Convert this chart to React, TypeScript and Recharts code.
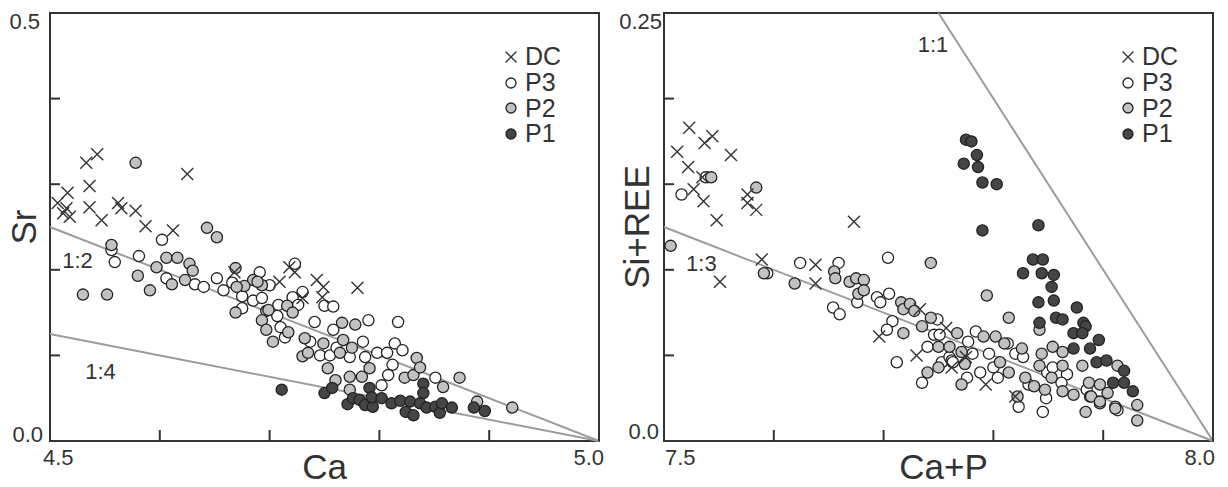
import React from 'react';
import {
  ScatterChart,
  Scatter,
  XAxis,
  YAxis,
  ReferenceLine,
  ReferenceDot,
  ReferenceArea,
  Legend,
} from 'recharts';

const FONT = '"Liberation Sans", Arial, Helvetica, sans-serif';
const INK = '#333333';
const GUIDE = '#9c9c9c';

// ---- left panel: Sr vs Ca ----
const caTicks = [4.5, 4.6, 4.7, 4.8, 4.9, 5.0];
const srTicks = [0, 0.1, 0.2, 0.3, 0.4, 0.5];

const dcCa = [4.543, 4.533, 4.536, 4.516, 4.507, 4.515, 4.512, 4.518, 4.536, 4.547, 4.562, 4.565, 4.578, 4.587, 4.612, 4.625, 4.668, 4.709, 4.718, 4.723, 4.730, 4.743, 4.749, 4.748, 4.780];
const dcSr = [0.335, 0.325, 0.298, 0.290, 0.278, 0.272, 0.266, 0.262, 0.273, 0.258, 0.278, 0.272, 0.269, 0.251, 0.246, 0.312, 0.197, 0.186, 0.203, 0.197, 0.167, 0.188, 0.180, 0.168, 0.179];

const p3Ca = [4.602, 4.556, 4.559, 4.581, 4.606, 4.632, 4.640, 4.652, 4.658, 4.666, 4.675, 4.675, 4.685, 4.691, 4.693, 4.700, 4.708, 4.707, 4.710, 4.714, 4.723, 4.721, 4.726, 4.730, 4.741, 4.750, 4.758, 4.758, 4.737, 4.746, 4.755, 4.761, 4.773, 4.785, 4.787, 4.790, 4.798, 4.807, 4.814, 4.821, 4.817, 4.812, 4.808, 4.802, 4.851];
const p3Sr = [0.235, 0.223, 0.209, 0.216, 0.190, 0.183, 0.180, 0.190, 0.176, 0.185, 0.169, 0.155, 0.164, 0.197, 0.167, 0.182, 0.159, 0.146, 0.133, 0.121, 0.207, 0.168, 0.159, 0.174, 0.139, 0.158, 0.157, 0.130, 0.116, 0.100, 0.100, 0.109, 0.098, 0.116, 0.098, 0.141, 0.103, 0.103, 0.114, 0.106, 0.139, 0.089, 0.077, 0.065, 0.074];

const p2Ca = [4.578, 4.643, 4.652, 4.556, 4.530, 4.552, 4.580, 4.591, 4.597, 4.606, 4.616, 4.627, 4.630, 4.611, 4.623, 4.669, 4.685, 4.677, 4.693, 4.670, 4.669, 4.697, 4.693, 4.697, 4.703, 4.716, 4.721, 4.689, 4.699, 4.717, 4.732, 4.730, 4.735, 4.749, 4.753, 4.760, 4.766, 4.778, 4.767, 4.764, 4.775, 4.791, 4.784, 4.773, 4.773, 4.823, 4.831, 4.834, 4.837, 4.858, 4.873, 4.889, 4.921];
const p2Sr = [0.325, 0.249, 0.238, 0.229, 0.171, 0.171, 0.193, 0.176, 0.203, 0.214, 0.214, 0.207, 0.199, 0.183, 0.188, 0.202, 0.188, 0.181, 0.182, 0.180, 0.150, 0.152, 0.141, 0.130, 0.116, 0.158, 0.150, 0.186, 0.153, 0.127, 0.120, 0.099, 0.103, 0.114, 0.085, 0.071, 0.138, 0.136, 0.118, 0.103, 0.109, 0.085, 0.075, 0.075, 0.060, 0.074, 0.077, 0.097, 0.086, 0.063, 0.074, 0.046, 0.039];

const p1Ca = [4.711, 4.750, 4.757, 4.771, 4.776, 4.782, 4.787, 4.794, 4.791, 4.793, 4.802, 4.811, 4.819, 4.824, 4.831, 4.828, 4.837, 4.840, 4.840, 4.843, 4.851, 4.855, 4.857, 4.866, 4.886, 4.896];
const p1Sr = [0.060, 0.056, 0.062, 0.043, 0.050, 0.048, 0.042, 0.040, 0.062, 0.051, 0.050, 0.044, 0.047, 0.034, 0.030, 0.046, 0.044, 0.067, 0.056, 0.039, 0.040, 0.033, 0.044, 0.039, 0.039, 0.035];

// ---- right panel: Si+REE vs Ca+P ----
const capTicks = [7.5, 7.6, 7.7, 7.8, 7.9, 8.0];
const sireeTicks = [0, 0.05, 0.1, 0.15, 0.2, 0.25];

const rDcX = [7.523, 7.544, 7.537, 7.512, 7.561, 7.522, 7.535, 7.527, 7.536, 7.548, 7.576, 7.576, 7.584, 7.673, 7.589, 7.551, 7.638, 7.638, 7.696, 7.730, 7.757, 7.733, 7.762, 7.775, 7.793, 7.820];
const rDcY = [0.183, 0.178, 0.174, 0.169, 0.167, 0.160, 0.154, 0.147, 0.140, 0.129, 0.144, 0.139, 0.135, 0.128, 0.106, 0.093, 0.103, 0.092, 0.061, 0.050, 0.066, 0.077, 0.043, 0.049, 0.033, 0.026];

const rP3X = [7.516, 7.538, 7.594, 7.624, 7.659, 7.704, 7.654, 7.660, 7.676, 7.694, 7.705, 7.708, 7.703, 7.712, 7.735, 7.740, 7.746, 7.749, 7.753, 7.760, 7.762, 7.777, 7.784, 7.781, 7.796, 7.788, 7.776, 7.800, 7.804, 7.813, 7.820, 7.827, 7.832, 7.823, 7.845, 7.848, 7.849, 7.854, 7.867, 7.862, 7.885, 7.888, 7.897, 7.911, 7.913, 7.763, 7.751, 7.697];
const rP3Y = [0.144, 0.154, 0.098, 0.104, 0.104, 0.107, 0.078, 0.074, 0.081, 0.084, 0.086, 0.070, 0.065, 0.046, 0.034, 0.055, 0.062, 0.071, 0.046, 0.049, 0.047, 0.058, 0.064, 0.051, 0.051, 0.040, 0.037, 0.043, 0.037, 0.057, 0.051, 0.049, 0.033, 0.020, 0.017, 0.025, 0.040, 0.043, 0.039, 0.034, 0.030, 0.026, 0.022, 0.020, 0.018, 0.046, 0.062, 0.081];

const rP2X = [7.543, 7.584, 7.506, 7.591, 7.619, 7.655, 7.656, 7.669, 7.675, 7.682, 7.677, 7.682, 7.716, 7.718, 7.724, 7.728, 7.718, 7.735, 7.743, 7.750, 7.760, 7.740, 7.750, 7.743, 7.767, 7.771, 7.771, 7.774, 7.794, 7.814, 7.791, 7.802, 7.810, 7.806, 7.814, 7.826, 7.829, 7.837, 7.822, 7.844, 7.842, 7.842, 7.853, 7.847, 7.854, 7.863, 7.863, 7.863, 7.873, 7.881, 7.887, 7.897, 7.904, 7.889, 7.897, 7.884, 7.911, 7.913, 7.931, 7.931];
const rP2Y = [0.154, 0.148, 0.114, 0.098, 0.092, 0.099, 0.095, 0.093, 0.095, 0.094, 0.086, 0.088, 0.081, 0.077, 0.080, 0.076, 0.063, 0.067, 0.072, 0.055, 0.055, 0.040, 0.043, 0.104, 0.063, 0.052, 0.033, 0.045, 0.085, 0.072, 0.061, 0.061, 0.057, 0.046, 0.040, 0.054, 0.037, 0.032, 0.026, 0.051, 0.065, 0.044, 0.037, 0.030, 0.055, 0.052, 0.044, 0.029, 0.027, 0.044, 0.034, 0.033, 0.028, 0.026, 0.023, 0.017, 0.019, 0.044, 0.021, 0.012];

const rP1X = [7.775, 7.780, 7.785, 7.773, 7.786, 7.790, 7.803, 7.790, 7.841, 7.836, 7.845, 7.827, 7.844, 7.855, 7.853, 7.841, 7.855, 7.876, 7.857, 7.863, 7.882, 7.884, 7.842, 7.873, 7.881, 7.896, 7.888, 7.873, 7.894, 7.903, 7.919, 7.909, 7.919, 7.927];
const rP1Y = [0.176, 0.175, 0.167, 0.162, 0.160, 0.151, 0.150, 0.123, 0.126, 0.106, 0.106, 0.098, 0.098, 0.097, 0.090, 0.081, 0.082, 0.078, 0.072, 0.071, 0.069, 0.067, 0.069, 0.063, 0.063, 0.059, 0.054, 0.054, 0.046, 0.047, 0.041, 0.034, 0.034, 0.029];

const zip = (xs: number[], ys: number[]) => xs.map((x, i) => ({ x, y: ys[i] }));

const legendRows = [
  { name: 'DC', fill: '' },
  { name: 'P3', fill: '#ffffff' },
  { name: 'P2', fill: '#c2c2c2' },
  { name: 'P1', fill: '#454545' },
];

const dot = (fill: string) => (p: any) => (
  <circle cx={p.cx} cy={p.cy} r={5.6} fill={fill} stroke="#222" strokeWidth={1.3} />
);

const cross = (p: any) => (
  <path
    d={`M${p.cx - 6},${p.cy - 6}L${p.cx + 6},${p.cy + 6}M${p.cx - 6},${p.cy + 6}L${p.cx + 6},${p.cy - 6}`}
    stroke={INK}
    strokeWidth={1.4}
    fill="none"
  />
);

const LegendBox = () => (
  <div style={{ fontFamily: FONT, fontSize: 25, color: INK, lineHeight: 1 }}>
    {legendRows.map((r) => (
      <div key={r.name} style={{ display: 'flex', alignItems: 'center', height: 25.7 }}>
        <svg width={16} height={16} style={{ marginRight: 6 }}>
          {r.fill ? (
            <circle cx={8} cy={8} r={5} fill={r.fill} stroke="#222" strokeWidth={1.3} />
          ) : (
            <path d="M2.5,2.5L13.5,13.5M2.5,13.5L13.5,2.5" stroke={INK} strokeWidth={1.4} />
          )}
        </svg>
        <span>{r.name}</span>
      </div>
    ))}
  </div>
);

// end labels only, short tick marks pointing into the plot
type EndCfg = { lo: number; hi: number; loText: string; hiText: string; loDx: number; loDy: number; hiDx: number; hiDy: number };

const yTick = (c: EndCfg) => (p: any) => {
  const v = p.payload.value;
  const isLo = Math.abs(v - c.lo) < 1e-9;
  const isHi = Math.abs(v - c.hi) < 1e-9;
  return (
    <g>
      <line x1={p.x} x2={p.x + 10} y1={p.y} y2={p.y} stroke={INK} strokeWidth={2} />
      {(isLo || isHi) && (
        <text
          x={p.x + (isLo ? c.loDx : c.hiDx)}
          y={p.y + (isLo ? c.loDy : c.hiDy)}
          textAnchor="end"
          fontSize={22}
          fontFamily={FONT}
          fill={INK}
        >
          {isLo ? c.loText : c.hiText}
        </text>
      )}
    </g>
  );
};

const xTick = (c: EndCfg) => (p: any) => {
  const v = p.payload.value;
  const isLo = Math.abs(v - c.lo) < 1e-9;
  const isHi = Math.abs(v - c.hi) < 1e-9;
  return (
    <g>
      <line x1={p.x} x2={p.x} y1={p.y} y2={p.y - 11} stroke={INK} strokeWidth={2} />
      {(isLo || isHi) && (
        <text
          x={p.x + (isLo ? c.loDx : c.hiDx)}
          y={p.y + (isLo ? c.loDy : c.hiDy)}
          textAnchor={isLo ? 'start' : 'end'}
          fontSize={22}
          fontFamily={FONT}
          fill={INK}
        >
          {isLo ? c.loText : c.hiText}
        </text>
      )}
    </g>
  );
};

const titleStyle = { fontSize: 35, fontFamily: FONT, fill: INK };
const ratioLabel = (v: string) => ({ value: v, position: 'center' as const, fontSize: 22, fontFamily: FONT, fill: INK });

export default function App() {
  return (
    <div style={{ position: 'absolute', left: 0, top: 0, width: 1228, height: 487, background: '#fff', display: 'flex' }}>
      <ScatterChart width={610} height={487} margin={{ top: 13, right: 11, bottom: 0, left: 0 }}>
        <XAxis
          type="number"
          dataKey="x"
          domain={[4.5, 5.0]}
          ticks={caTicks}
          interval={0}
          height={46}
          tickSize={0}
          tickMargin={0}
          axisLine={false}
          tickLine={false}
          tick={xTick({ lo: 4.5, hi: 5.0, loText: '4.5', hiText: '5.0', loDx: -7, loDy: 24, hiDx: 5, hiDy: 24 })}
          label={{ value: 'Ca', position: 'insideBottom', offset: 8, ...titleStyle }}
        />
        <YAxis
          type="number"
          dataKey="y"
          domain={[0, 0.5]}
          ticks={srTicks}
          interval={0}
          width={50}
          tickSize={0}
          tickMargin={0}
          axisLine={false}
          tickLine={false}
          tick={yTick({ lo: 0, hi: 0.5, loText: '0.0', hiText: '0.5', loDx: -7, loDy: 1, hiDx: -10, hiDy: 16 })}
          label={{ value: 'Sr', angle: -90, position: 'center', dx: -1, ...titleStyle }}
        />
        <ReferenceArea x1={4.5} x2={5.0} y1={0} y2={0.5} fill="none" stroke={INK} strokeWidth={2} />
        <ReferenceLine segment={[{ x: 4.5, y: 0.25 }, { x: 5.0, y: 0 }]} stroke={GUIDE} strokeWidth={2} />
        <ReferenceLine segment={[{ x: 4.5, y: 0.125 }, { x: 5.0, y: 0 }]} stroke={GUIDE} strokeWidth={2} />
        <ReferenceDot x={4.525} y={0.211} r={0} fill="none" stroke="none" label={ratioLabel('1:2')} />
        <ReferenceDot x={4.546} y={0.081} r={0} fill="none" stroke="none" label={ratioLabel('1:4')} />
        <Scatter name="P3" data={zip(p3Ca, p3Sr)} shape={dot('#ffffff')} isAnimationActive={false} />
        <Scatter name="P2" data={zip(p2Ca, p2Sr)} shape={dot('#c2c2c2')} isAnimationActive={false} />
        <Scatter name="P1" data={zip(p1Ca, p1Sr)} shape={dot('#454545')} isAnimationActive={false} />
        <Scatter name="DC" data={zip(dcCa, dcSr)} shape={cross} isAnimationActive={false} />
        <Legend
          layout="horizontal"
          verticalAlign="middle"
          align="center"
          content={() => <LegendBox />}
          wrapperStyle={{ left: 503, top: 44, width: 'auto' }}
        />
      </ScatterChart>

      <ScatterChart width={618} height={487} margin={{ top: 13, right: 15, bottom: 0, left: 0 }}>
        <XAxis
          type="number"
          dataKey="x"
          domain={[7.5, 8.0]}
          ticks={capTicks}
          interval={0}
          height={46}
          tickSize={0}
          tickMargin={0}
          axisLine={false}
          tickLine={false}
          tick={xTick({ lo: 7.5, hi: 8.0, loText: '7.5', hiText: '8.0', loDx: 1, loDy: 24, hiDx: 2, hiDy: 24 })}
          label={{ value: 'Ca+P', position: 'insideBottom', offset: 8, dx: 5, ...titleStyle }}
        />
        <YAxis
          type="number"
          dataKey="y"
          domain={[0, 0.25]}
          ticks={sireeTicks}
          interval={0}
          width={54}
          tickSize={0}
          tickMargin={0}
          axisLine={false}
          tickLine={false}
          tick={yTick({ lo: 0, hi: 0.25, loText: '0.0', hiText: '0.25', loDx: -5, loDy: -2, hiDx: -2, hiDy: 16 })}
          label={{ value: 'Si+REE', angle: -90, position: 'center', ...titleStyle }}
        />
        <ReferenceArea x1={7.5} x2={8.0} y1={0} y2={0.25} fill="none" stroke={INK} strokeWidth={2} />
        <ReferenceLine segment={[{ x: 7.5, y: 0.125 }, { x: 8.0, y: 0 }]} stroke={GUIDE} strokeWidth={2} />
        <ReferenceLine segment={[{ x: 7.75, y: 0.25 }, { x: 8.0, y: 0 }]} stroke={GUIDE} strokeWidth={2} />
        <ReferenceDot x={7.534} y={0.104} r={0} fill="none" stroke="none" label={ratioLabel('1:3')} />
        <ReferenceDot x={7.745} y={0.232} r={0} fill="none" stroke="none" label={ratioLabel('1:1')} />
        <Scatter name="P3" data={zip(rP3X, rP3Y)} shape={dot('#ffffff')} isAnimationActive={false} />
        <Scatter name="P2" data={zip(rP2X, rP2Y)} shape={dot('#c2c2c2')} isAnimationActive={false} />
        <Scatter name="P1" data={zip(rP1X, rP1Y)} shape={dot('#454545')} isAnimationActive={false} />
        <Scatter name="DC" data={zip(rDcX, rDcY)} shape={cross} isAnimationActive={false} />
        <Legend
          layout="horizontal"
          verticalAlign="middle"
          align="center"
          content={() => <LegendBox />}
          wrapperStyle={{ left: 510, top: 44, width: 'auto' }}
        />
      </ScatterChart>
    </div>
  );
}
